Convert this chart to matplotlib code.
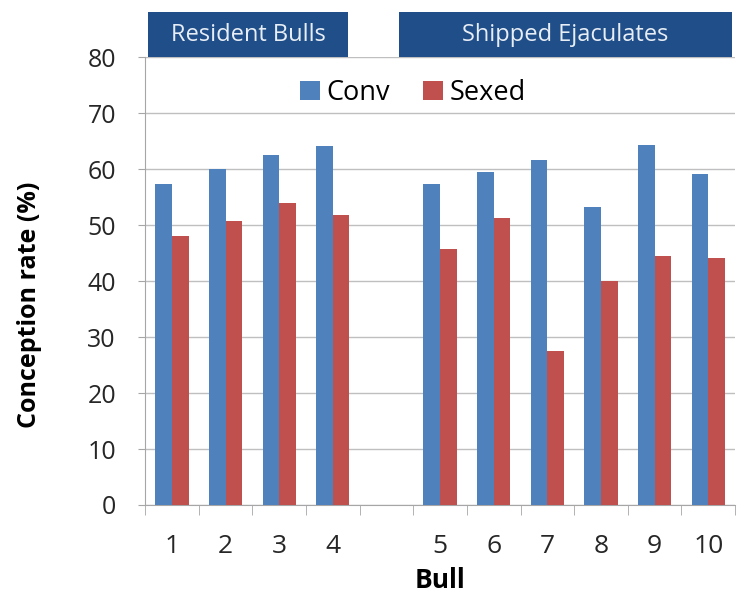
import numpy as np
import matplotlib.pyplot as plt
from matplotlib.patches import Rectangle

# bull labels; empty slot separates the two groups
bulls = ["1", "2", "3", "4", "", "5", "6", "7", "8", "9", "10"]
conv = [57.3, 60.1, 62.5, 64.1, np.nan, 57.4, 59.5, 61.7, 53.3, 64.3, 59.1]
sexed = [48.0, 50.8, 54.0, 51.8, np.nan, 45.8, 51.2, 27.5, 40.1, 44.5, 44.1]
groups = ["Resident Bulls", "Shipped Ejaculates"]

plt.rcParams['font.family'] = ['Open Sans', 'DejaVu Sans']

fig = plt.figure(figsize=(7.44, 6.06), dpi=100)
ax = fig.add_axes([0.195, 0.1667, 0.793, 0.739])

x = np.arange(len(bulls))
w = 0.31
ax.bar(x - w / 2, conv, w, color='#4F81BD', label='Conv', zorder=3)
ax.bar(x + w / 2, sexed, w, color='#C0504D', label='Sexed', zorder=3)

ax.set_xlim(-0.5, len(bulls) - 0.5)
ax.set_ylim(0, 80)
ax.set_yticks(np.arange(0, 81, 10))
ax.set_xticks(x)
ax.set_xticklabels(bulls)
ax.set_xticks(np.arange(-0.5, len(bulls)), minor=True)
ax.tick_params(axis='x', which='major', length=0, labelsize=19, pad=21,
               colors='#262626')
ax.tick_params(axis='x', which='minor', length=7, color='#A6A6A6')
ax.tick_params(axis='y', length=5, color='#A6A6A6', labelsize=18,
               labelcolor='#262626', pad=16)

ax.grid(axis='y', color='#BFBFBF', linewidth=1, zorder=0)
for s in ['top', 'right']:
    ax.spines[s].set_visible(False)
for s in ['left', 'bottom']:
    ax.spines[s].set_color('#A6A6A6')

ax.set_ylabel('Conception rate (%)', fontsize=18, fontweight='bold')
ax.yaxis.set_label_coords(-0.175, 0.446)
ax.set_xlabel('Bull', fontsize=19, fontweight='bold', labelpad=6)

ax.legend(loc='center', bbox_to_anchor=(0.454, 0.92), ncol=2,
          frameon=False, fontsize=19.5, handlelength=0.75, handleheight=0.75,
          handletextpad=0.25, columnspacing=1.2, borderpad=0)

# group header boxes above the plot
boxes = [(0.005, 0.339), (0.430, 0.565)]
for (x0, bw), name in zip(boxes, groups):
    ax.add_patch(Rectangle((x0, 1.0), bw, 0.1, transform=ax.transAxes,
                           facecolor='#1F4E89', edgecolor='none',
                           clip_on=False))
    ax.text(x0 + bw / 2, 1.05, name, transform=ax.transAxes, ha='center',
            va='center', color='#E8EEF6', fontsize=17)

plt.savefig('out.png', dpi=100)
